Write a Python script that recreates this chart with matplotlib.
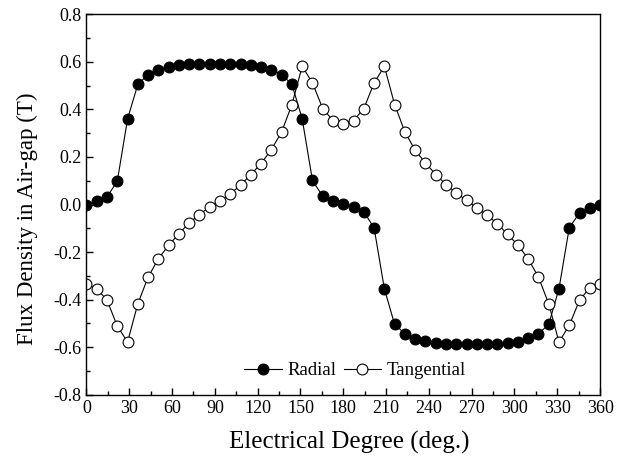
import numpy as np
import matplotlib
matplotlib.use("Agg")
import matplotlib.pyplot as plt
from matplotlib.ticker import MultipleLocator

# electrical degree, 50 steps over one period
degree = np.linspace(0, 360, 51)

radial = [
    0.000, 0.014, 0.032, 0.098, 0.360, 0.505, 0.546, 0.566, 0.579, 0.587,
    0.591, 0.590, 0.589, 0.589, 0.590, 0.591, 0.587, 0.577, 0.566, 0.546,
    0.505, 0.360, 0.101, 0.035, 0.014, 0.004, -0.010, -0.031, -0.098, -0.354,
    -0.504, -0.543, -0.564, -0.574, -0.584, -0.588, -0.588, -0.588, -0.588, -0.588,
    -0.588, -0.584, -0.576, -0.563, -0.543, -0.504, -0.354, -0.098, -0.035, -0.014,
    0.000,
]

tangential = [
    -0.336, -0.354, -0.402, -0.511, -0.578, -0.417, -0.305, -0.228, -0.171, -0.123,
    -0.077, -0.042, -0.010, 0.014, 0.045, 0.081, 0.126, 0.172, 0.231, 0.305,
    0.420, 0.581, 0.511, 0.403, 0.353, 0.340, 0.353, 0.403, 0.511, 0.581,
    0.420, 0.305, 0.228, 0.175, 0.126, 0.084, 0.049, 0.017, -0.014, -0.045,
    -0.080, -0.126, -0.170, -0.228, -0.305, -0.417, -0.578, -0.508, -0.402, -0.350,
    -0.336,
]

plt.rcParams["font.family"] = ["Liberation Serif", "DejaVu Serif"]
plt.rcParams["axes.unicode_minus"] = False

fig = plt.figure(figsize=(6.29, 4.57), dpi=100)
ax = fig.add_axes([0.1375, 0.136, 0.8165, 0.833])

ax.plot(degree, radial, color="black", lw=0.8, marker="o", ms=7.8,
        mfc="black", mec="black", mew=0.8, label="Radial")
ax.plot(degree, tangential, color="black", lw=0.8, marker="o", ms=7.8,
        mfc="white", mec="black", mew=0.8, label="Tangential")

ax.set_xlim(0, 360)
ax.set_ylim(-0.8, 0.8)
ax.xaxis.set_major_locator(MultipleLocator(30))
ax.xaxis.set_minor_locator(MultipleLocator(15))
ax.yaxis.set_major_locator(MultipleLocator(0.2))
ax.yaxis.set_minor_locator(MultipleLocator(0.1))
ax.yaxis.set_major_formatter(plt.FuncFormatter(lambda v, p: f"{v:.1f}"))
ax.tick_params(which="both", direction="in", top=False, right=False,
               labelsize=13, width=1.0)
ax.tick_params(which="major", length=5)
ax.tick_params(which="minor", length=3)
for s in ax.spines.values():
    s.set_linewidth(1.0)

ax.set_xlabel("Electrical Degree (deg.)", fontsize=18)
ax.xaxis.set_label_coords(0.512, -0.095)
ax.set_ylabel("Flux Density in Air-gap (T)", fontsize=16.5)
ax.yaxis.set_label_coords(-0.094, 0.462)

ax.legend(loc="center", bbox_to_anchor=(0.523, 0.063), ncol=2, frameon=False,
          fontsize=13.5, handlelength=2.0, handletextpad=0.3, columnspacing=0.4)

fig.savefig("out.png", dpi=100)
